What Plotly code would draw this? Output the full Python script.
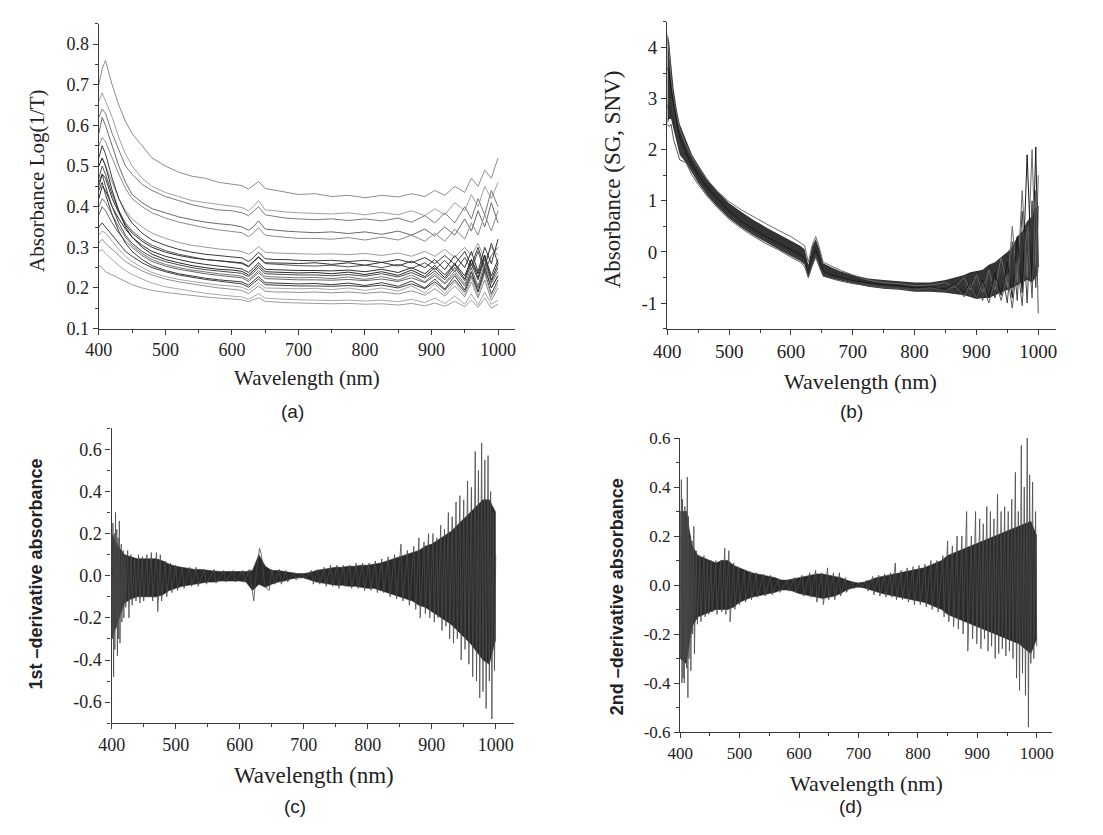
import plotly.graph_objects as go

# ---------------- panel (a): raw absorbance spectra ----------------
WL_A = [400, 405, 410, 420, 430, 440, 450, 465, 480, 500, 520, 540, 560, 580, 600, 615, 625, 632, 640, 650,
        665, 680, 700, 725, 750, 775, 800, 825, 850, 870, 890, 905, 920, 935, 950, 960, 970, 980, 990, 1000]

A01 = [0.70, 0.74, 0.76, 0.70, 0.65, 0.61, 0.58, 0.55, 0.52, 0.50, 0.485, 0.475, 0.47, 0.46, 0.455, 0.452, 0.443, 0.452, 0.462, 0.445,
       0.44, 0.435, 0.43, 0.432, 0.425, 0.428, 0.422, 0.428, 0.424, 0.432, 0.425, 0.44, 0.428, 0.45, 0.435, 0.47, 0.45, 0.49, 0.47, 0.52]
A02 = [0.66, 0.68, 0.66, 0.62, 0.57, 0.53, 0.50, 0.47, 0.45, 0.435, 0.425, 0.415, 0.41, 0.405, 0.40, 0.398, 0.39, 0.40, 0.415, 0.392,
       0.39, 0.387, 0.385, 0.383, 0.382, 0.385, 0.38, 0.386, 0.38, 0.39, 0.378, 0.395, 0.38, 0.41, 0.39, 0.43, 0.40, 0.45, 0.42, 0.46]
A03 = [0.62, 0.64, 0.63, 0.58, 0.54, 0.50, 0.48, 0.455, 0.44, 0.425, 0.415, 0.405, 0.398, 0.392, 0.39, 0.385, 0.378, 0.388, 0.40, 0.38,
       0.376, 0.372, 0.37, 0.368, 0.37, 0.366, 0.37, 0.365, 0.372, 0.362, 0.378, 0.36, 0.385, 0.36, 0.40, 0.37, 0.42, 0.38, 0.44, 0.40]
A04 = [0.58, 0.62, 0.60, 0.55, 0.50, 0.46, 0.43, 0.41, 0.395, 0.385, 0.375, 0.368, 0.362, 0.358, 0.355, 0.35, 0.342, 0.35, 0.365, 0.345,
       0.342, 0.34, 0.338, 0.336, 0.338, 0.334, 0.338, 0.332, 0.34, 0.33, 0.345, 0.328, 0.35, 0.33, 0.37, 0.34, 0.39, 0.35, 0.41, 0.36]
A05 = [0.55, 0.57, 0.56, 0.52, 0.48, 0.445, 0.42, 0.40, 0.385, 0.372, 0.362, 0.355, 0.348, 0.343, 0.34, 0.336, 0.326, 0.335, 0.348, 0.33,
       0.327, 0.325, 0.322, 0.322, 0.32, 0.324, 0.318, 0.325, 0.318, 0.33, 0.315, 0.335, 0.315, 0.345, 0.32, 0.36, 0.33, 0.38, 0.34, 0.39]
A06 = [0.50, 0.52, 0.50, 0.46, 0.42, 0.39, 0.37, 0.35, 0.335, 0.322, 0.312, 0.305, 0.30, 0.296, 0.293, 0.29, 0.283, 0.29, 0.302, 0.288,
       0.286, 0.285, 0.284, 0.283, 0.284, 0.282, 0.285, 0.28, 0.286, 0.278, 0.29, 0.278, 0.295, 0.275, 0.30, 0.28, 0.31, 0.27, 0.30, 0.28]
A07 = [0.52, 0.55, 0.53, 0.47, 0.42, 0.385, 0.36, 0.335, 0.318, 0.305, 0.295, 0.288, 0.283, 0.28, 0.277, 0.274, 0.265, 0.274, 0.288, 0.272,
       0.27, 0.27, 0.268, 0.267, 0.268, 0.265, 0.268, 0.263, 0.27, 0.262, 0.275, 0.26, 0.28, 0.258, 0.29, 0.255, 0.30, 0.25, 0.31, 0.26]
A08 = [0.47, 0.50, 0.48, 0.43, 0.39, 0.36, 0.34, 0.32, 0.305, 0.292, 0.283, 0.276, 0.27, 0.267, 0.264, 0.26, 0.252, 0.262, 0.275, 0.26,
       0.258, 0.256, 0.255, 0.254, 0.256, 0.252, 0.256, 0.25, 0.258, 0.248, 0.262, 0.245, 0.268, 0.24, 0.275, 0.245, 0.29, 0.24, 0.28, 0.30]
A09 = [0.42, 0.45, 0.44, 0.40, 0.37, 0.345, 0.325, 0.305, 0.29, 0.278, 0.27, 0.263, 0.258, 0.254, 0.25, 0.247, 0.238, 0.248, 0.262, 0.246,
       0.245, 0.244, 0.243, 0.243, 0.242, 0.244, 0.24, 0.246, 0.238, 0.25, 0.235, 0.255, 0.232, 0.26, 0.23, 0.27, 0.235, 0.28, 0.23, 0.27]
A10 = [0.46, 0.48, 0.45, 0.40, 0.36, 0.33, 0.31, 0.29, 0.276, 0.265, 0.257, 0.25, 0.245, 0.242, 0.24, 0.236, 0.228, 0.237, 0.25, 0.235,
       0.234, 0.233, 0.232, 0.232, 0.23, 0.233, 0.229, 0.235, 0.227, 0.238, 0.224, 0.242, 0.22, 0.25, 0.218, 0.26, 0.22, 0.27, 0.215, 0.25]
A11 = [0.38, 0.40, 0.39, 0.36, 0.335, 0.315, 0.30, 0.28, 0.265, 0.254, 0.246, 0.24, 0.235, 0.231, 0.228, 0.225, 0.216, 0.226, 0.238, 0.223,
       0.222, 0.221, 0.22, 0.22, 0.219, 0.221, 0.218, 0.222, 0.216, 0.225, 0.213, 0.23, 0.21, 0.235, 0.205, 0.24, 0.20, 0.25, 0.20, 0.23]
A12 = [0.35, 0.36, 0.35, 0.33, 0.31, 0.29, 0.278, 0.262, 0.25, 0.24, 0.232, 0.226, 0.221, 0.217, 0.214, 0.21, 0.202, 0.211, 0.222, 0.208,
       0.207, 0.206, 0.205, 0.205, 0.204, 0.206, 0.203, 0.207, 0.20, 0.21, 0.198, 0.215, 0.195, 0.22, 0.19, 0.23, 0.19, 0.24, 0.185, 0.22]
A13 = [0.31, 0.32, 0.31, 0.295, 0.28, 0.265, 0.255, 0.242, 0.232, 0.222, 0.215, 0.21, 0.205, 0.20, 0.197, 0.194, 0.186, 0.195, 0.205, 0.192,
       0.19, 0.19, 0.189, 0.19, 0.188, 0.19, 0.187, 0.19, 0.185, 0.193, 0.182, 0.198, 0.18, 0.205, 0.178, 0.215, 0.175, 0.22, 0.17, 0.20]
A14 = [0.29, 0.295, 0.285, 0.27, 0.255, 0.243, 0.233, 0.222, 0.212, 0.203, 0.197, 0.192, 0.187, 0.183, 0.18, 0.178, 0.172, 0.178, 0.186, 0.175,
       0.173, 0.172, 0.171, 0.17, 0.169, 0.17, 0.168, 0.17, 0.166, 0.172, 0.164, 0.175, 0.162, 0.18, 0.16, 0.185, 0.158, 0.19, 0.16, 0.17]
A15 = [0.255, 0.25, 0.24, 0.232, 0.222, 0.215, 0.208, 0.20, 0.194, 0.189, 0.185, 0.181, 0.178, 0.175, 0.173, 0.171, 0.166, 0.17, 0.176, 0.167,
       0.165, 0.164, 0.163, 0.162, 0.161, 0.162, 0.16, 0.161, 0.158, 0.162, 0.156, 0.163, 0.155, 0.167, 0.154, 0.17, 0.152, 0.175, 0.15, 0.16]
A16 = [0.45, 0.48, 0.47, 0.42, 0.385, 0.355, 0.335, 0.315, 0.3, 0.288, 0.28, 0.274, 0.27, 0.267, 0.265, 0.262, 0.254, 0.264, 0.277, 0.262,
       0.262, 0.261, 0.26, 0.262, 0.258, 0.262, 0.256, 0.263, 0.254, 0.266, 0.25, 0.27, 0.245, 0.28, 0.25, 0.29, 0.24, 0.3, 0.26, 0.32]
A17 = [0.5, 0.52, 0.5, 0.44, 0.39, 0.35, 0.325, 0.3, 0.283, 0.27, 0.262, 0.255, 0.25, 0.246, 0.244, 0.241, 0.232, 0.242, 0.256, 0.24,
       0.239, 0.238, 0.237, 0.238, 0.235, 0.239, 0.233, 0.24, 0.231, 0.244, 0.228, 0.25, 0.225, 0.258, 0.222, 0.27, 0.225, 0.28, 0.22, 0.26]
A18 = [0.4, 0.42, 0.41, 0.38, 0.35, 0.325, 0.305, 0.285, 0.27, 0.258, 0.25, 0.244, 0.239, 0.235, 0.232, 0.229, 0.221, 0.23, 0.243, 0.228,
       0.227, 0.226, 0.225, 0.226, 0.223, 0.227, 0.221, 0.228, 0.219, 0.232, 0.215, 0.236, 0.212, 0.242, 0.21, 0.25, 0.205, 0.26, 0.21, 0.24]
A19 = [0.44, 0.46, 0.43, 0.38, 0.34, 0.31, 0.29, 0.27, 0.255, 0.243, 0.235, 0.229, 0.224, 0.22, 0.218, 0.215, 0.207, 0.216, 0.228, 0.213,
       0.212, 0.211, 0.21, 0.211, 0.208, 0.212, 0.206, 0.213, 0.204, 0.217, 0.2, 0.222, 0.197, 0.23, 0.195, 0.24, 0.19, 0.25, 0.2, 0.23]
A20 = [0.33, 0.34, 0.335, 0.315, 0.295, 0.278, 0.265, 0.25, 0.238, 0.228, 0.221, 0.216, 0.211, 0.207, 0.205, 0.202, 0.194, 0.203, 0.213, 0.2,
       0.199, 0.198, 0.198, 0.199, 0.196, 0.2, 0.194, 0.2, 0.192, 0.205, 0.188, 0.21, 0.185, 0.215, 0.183, 0.225, 0.18, 0.235, 0.178, 0.21]
SPECTRA_A = [A01, A02, A03, A04, A05, A06, A07, A08, A09, A10, A11, A12, A13, A14, A15, A16, A17, A18, A19, A20]
GREYS_A = ["#8c8c8c", "#a0a0a0", "#7a7a7a", "#6a6a6a", "#8a8a8a", "#9a9a9a", "#3c3c3c", "#555555",
           "#2f2f2f", "#4a4a4a", "#666666", "#404040", "#8f8f8f", "#a8a8a8", "#9c9c9c",
           "#333333", "#2a2a2a", "#777777", "#3a3a3a", "#a5a5a5"]

# ---------------- panel (b): SG + SNV ----------------
WL_B = [400, 403, 406, 410, 415, 420, 430, 440, 450, 465, 480, 500, 520, 540, 560, 580, 600, 615, 622, 628,
        634, 640, 646, 652, 665, 680, 700, 725, 750, 775, 800, 825, 850, 865, 880, 890, 900, 910, 920, 930,
        940, 950, 958, 966, 974, 982, 990, 996, 1000]
B_HI = [4.3, 4.1, 3.7, 3.2, 2.8, 2.5, 2.2, 1.9, 1.7, 1.42, 1.2, 0.95, 0.78, 0.62, 0.48, 0.35, 0.22, 0.12, 0.05, -0.25,
        0.1, 0.25, 0.05, -0.22, -0.3, -0.38, -0.45, -0.52, -0.55, -0.58, -0.6, -0.6, -0.55, -0.5, -0.45, -0.4, -0.38, -0.35, -0.25, -0.2,
        -0.1, 0.0, 0.1, 0.3, 0.4, 0.6, 0.7, 0.9, 0.7]
B_LO = [2.5, 2.6, 2.6, 2.4, 2.1, 1.9, 1.75, 1.55, 1.35, 1.1, 0.9, 0.66, 0.48, 0.32, 0.18, 0.05, -0.08, -0.18, -0.25, -0.52,
        -0.3, -0.12, -0.3, -0.48, -0.52, -0.56, -0.62, -0.68, -0.72, -0.74, -0.78, -0.78, -0.8, -0.82, -0.85, -0.88, -0.92, -0.9, -0.9, -0.85,
        -0.8, -0.75, -0.7, -0.65, -0.6, -0.55, -0.6, -0.5, -0.4]
B1 = [4.2, 3.9, 3.4, 3.0, 2.7, 2.4, 2.1, 1.85, 1.65, 1.4, 1.2, 0.98, 0.82, 0.68, 0.55, 0.42, 0.3, 0.18, 0.12, -0.2,
      0.12, 0.3, 0.08, -0.2, -0.28, -0.36, -0.45, -0.55, -0.6, -0.62, -0.66, -0.65, -0.6, -0.7, -0.5, -0.75, -0.45, -0.8, -0.35, -0.75,
      -0.1, -0.7, 0.5, -0.6, 1.2, -0.5, 2.0, -0.3, 1.5]
B2 = [3.6, 3.5, 3.2, 2.9, 2.55, 2.25, 1.95, 1.7, 1.5, 1.25, 1.05, 0.8, 0.6, 0.44, 0.3, 0.17, 0.05, -0.05, -0.12, -0.42,
      -0.12, 0.05, -0.15, -0.38, -0.45, -0.5, -0.56, -0.6, -0.64, -0.66, -0.7, -0.68, -0.72, -0.62, -0.8, -0.6, -0.85, -0.55, -0.9, -0.4,
      -0.85, -0.2, -0.9, 0.3, -0.8, 1.9, -0.6, 2.05, -0.3]
B3 = [2.8, 3.0, 3.0, 2.7, 2.35, 2.05, 1.82, 1.6, 1.4, 1.15, 0.95, 0.72, 0.52, 0.36, 0.22, 0.1, -0.03, -0.13, -0.2, -0.48,
      -0.2, -0.05, -0.22, -0.42, -0.48, -0.54, -0.58, -0.64, -0.68, -0.7, -0.72, -0.74, -0.66, -0.8, -0.6, -0.88, -0.55, -0.95, -0.45, -0.9,
      -0.3, -1.0, 0.2, -0.95, 0.8, -1.0, 1.0, -0.7, 0.9]
B4 = [2.5, 2.45, 2.5, 2.2, 2.0, 1.8, 1.75, 1.5, 1.32, 1.08, 0.88, 0.64, 0.46, 0.3, 0.16, 0.04, -0.1, -0.2, -0.28, -0.5,
      -0.28, -0.1, -0.3, -0.47, -0.52, -0.57, -0.62, -0.66, -0.7, -0.72, -0.75, -0.7, -0.78, -0.65, -0.88, -0.62, -0.9, -0.6, -1.0, -0.55,
      -0.95, -0.45, -1.1, -0.2, -1.05, 0.5, -0.9, 1.2, -1.2]
SPECTRA_B = [B1, B2, B3, B4]
GREYS_B = ["#6a6a6a", "#1a1a1a", "#444444", "#555555"]

# ---------------- panels (c) and (d): derivative envelopes ----------------
WL_CD = [400, 410, 420, 430, 440, 450, 460, 470, 480, 490, 500, 510, 520, 530, 540, 550, 560, 570, 580, 590,
         600, 610, 620, 630, 640, 650, 660, 670, 680, 690, 700, 710, 720, 730, 740, 750, 760, 770, 780, 790,
         800, 810, 820, 830, 840, 850, 860, 870, 880, 890, 900, 910, 920, 930, 940, 950, 960, 970, 980, 990, 1000]
C_HI = [0.2, 0.14, 0.1, 0.09, 0.08, 0.08, 0.08, 0.08, 0.07, 0.055, 0.045, 0.04, 0.035, 0.03, 0.03, 0.025, 0.022, 0.02, 0.02, 0.02,
        0.02, 0.02, 0.025, 0.1, 0.045, 0.025, 0.025, 0.02, 0.015, 0.01, 0.01, 0.015, 0.025, 0.03, 0.035, 0.04, 0.04, 0.045, 0.045, 0.05,
        0.05, 0.055, 0.06, 0.07, 0.08, 0.09, 0.1, 0.11, 0.12, 0.14, 0.15, 0.17, 0.19, 0.21, 0.24, 0.27, 0.3, 0.33, 0.36, 0.36, 0.3]
C_LO = [-0.3, -0.22, -0.13, -0.11, -0.1, -0.1, -0.1, -0.1, -0.09, -0.07, -0.06, -0.05, -0.045, -0.04, -0.035, -0.03, -0.03, -0.025, -0.025, -0.025,
        -0.025, -0.03, -0.07, -0.04, -0.055, -0.04, -0.03, -0.025, -0.015, -0.01, -0.01, -0.02, -0.03, -0.035, -0.04, -0.045, -0.045, -0.05, -0.05, -0.055,
        -0.06, -0.06, -0.07, -0.08, -0.09, -0.1, -0.11, -0.12, -0.14, -0.15, -0.17, -0.19, -0.21, -0.23, -0.26, -0.29, -0.32, -0.36, -0.4, -0.42, -0.3]
SPK_C_X = [400, 401, 402, 403, 404, 405, 406, 407, 408, 409, 410, 411, 412, 413, 415, 416, 418, 419, 421, 422,
           425, 427, 430, 432, 436, 438, 442, 444, 448, 450, 455, 457, 462, 464, 470, 472, 476, 478, 484, 486,
           492, 494, 500, 503, 510, 513, 522, 525, 532, 535, 545, 548, 560, 563, 575, 578, 590, 593, 605, 608,
           615, 618, 622, 626, 631, 634, 638, 642, 646, 650, 655, 662, 665, 672, 675, 685, 688, 698, 702, 712,
           715, 722, 725, 732, 735, 742, 745, 752, 755, 762, 765, 772, 775, 782, 785, 792, 795, 802, 805, 812,
           815, 822, 825, 832, 835, 842, 845, 852, 855, 862, 865, 872, 875, 880, 882, 888, 890, 895, 897, 902,
           904, 908, 910, 914, 916, 920, 922, 926, 928, 932, 934, 938, 940, 944, 946, 950, 952, 956, 958, 962,
           964, 968, 970, 973, 975, 978, 980, 983, 985, 988, 990, 992, 994, 996, 998, 1000]
SPK_C_Y = [0.1, -0.3, 0.25, -0.48, 0.2, -0.35, 0.3, -0.25, 0.22, -0.38, 0.18, -0.3, 0.26, -0.32, 0.15, -0.22, 0.12, -0.2, 0.1, -0.15,
           0.12, -0.2, 0.1, -0.14, 0.08, -0.12, 0.1, -0.13, 0.09, -0.12, 0.1, -0.1, 0.11, -0.12, 0.11, -0.17, 0.1, -0.12, 0.07, -0.1,
           0.06, -0.08, 0.05, -0.07, 0.04, -0.06, 0.04, -0.05, 0.04, -0.05, 0.03, -0.04, 0.03, -0.035, 0.025, -0.03, 0.025, -0.03, 0.025, -0.03,
           0.03, -0.04, -0.12, 0.02, 0.13, 0.1, -0.02, -0.06, -0.07, 0.03, -0.04, 0.03, -0.04, 0.025, -0.03, 0.015, -0.02, 0.01, -0.015, 0.025,
           -0.04, 0.03, -0.04, 0.04, -0.05, 0.05, -0.05, 0.05, -0.06, 0.05, -0.05, 0.05, -0.06, 0.06, -0.06, 0.06, -0.07, 0.06, -0.07, 0.07,
           -0.08, 0.08, -0.08, 0.09, -0.1, 0.1, -0.11, 0.15, -0.12, 0.12, -0.14, 0.14, -0.16, 0.18, -0.2, 0.16, -0.18, 0.2, -0.2, 0.2,
           -0.22, 0.18, -0.2, 0.24, -0.26, 0.22, -0.24, 0.3, -0.3, 0.28, -0.32, 0.35, -0.3, 0.38, -0.4, 0.36, -0.35, 0.45, -0.42, 0.42,
           -0.48, 0.59, -0.5, 0.5, -0.58, 0.63, -0.55, 0.55, -0.63, 0.57, -0.5, 0.4, -0.68, 0.3, -0.45, 0.1]

D_HI = [0.3, 0.3, 0.16, 0.12, 0.11, 0.1, 0.09, 0.1, 0.1, 0.08, 0.07, 0.06, 0.05, 0.045, 0.04, 0.035, 0.03, 0.02, 0.02, 0.025,
        0.03, 0.035, 0.04, 0.045, 0.045, 0.04, 0.035, 0.03, 0.02, 0.012, 0.008, 0.012, 0.02, 0.03, 0.035, 0.04, 0.045, 0.05, 0.055, 0.06,
        0.065, 0.07, 0.08, 0.09, 0.1, 0.12, 0.13, 0.14, 0.15, 0.16, 0.17, 0.18, 0.19, 0.2, 0.21, 0.22, 0.23, 0.24, 0.25, 0.26, 0.2]
D_LO = [-0.3, -0.32, -0.17, -0.13, -0.12, -0.11, -0.1, -0.1, -0.1, -0.09, -0.07, -0.06, -0.05, -0.045, -0.04, -0.035, -0.03, -0.02, -0.02, -0.025,
        -0.035, -0.04, -0.045, -0.05, -0.055, -0.05, -0.045, -0.035, -0.02, -0.012, -0.008, -0.012, -0.02, -0.03, -0.035, -0.04, -0.045, -0.05, -0.055, -0.06,
        -0.065, -0.07, -0.08, -0.09, -0.1, -0.12, -0.13, -0.14, -0.15, -0.16, -0.17, -0.18, -0.19, -0.2, -0.21, -0.22, -0.23, -0.24, -0.26, -0.28, -0.22]
SPK_D_X = [400, 401, 402, 403, 404, 405, 406, 407, 408, 409, 410, 411, 412, 413, 414, 415, 417, 418, 420, 421,
           423, 424, 427, 429, 433, 435, 440, 442, 446, 448, 452, 454, 460, 462, 468, 470, 475, 477, 482, 484,
           490, 492, 498, 500, 508, 510, 518, 520, 528, 530, 540, 543, 552, 555, 565, 568, 580, 583, 592, 595,
           605, 608, 618, 620, 628, 630, 638, 641, 648, 650, 658, 660, 668, 670, 678, 680, 690, 692, 702, 705,
           714, 716, 724, 726, 734, 736, 744, 746, 754, 756, 762, 764, 772, 774, 782, 784, 792, 794, 802, 804,
           812, 814, 822, 824, 832, 834, 842, 844, 850, 852, 858, 860, 866, 868, 874, 876, 882, 884, 890, 892,
           897, 899, 904, 906, 910, 912, 916, 918, 922, 924, 928, 930, 934, 936, 940, 942, 946, 948, 952, 954,
           958, 960, 964, 966, 969, 971, 974, 976, 979, 981, 984, 986, 988, 990, 993, 995, 998, 1000]
SPK_D_Y = [0.2, -0.3, 0.43, -0.4, 0.35, -0.38, 0.3, -0.4, 0.32, -0.3, 0.3, -0.34, 0.44, -0.46, 0.28, -0.3, 0.2, -0.35, 0.18, -0.2,
           0.24, -0.28, 0.14, -0.16, 0.12, -0.15, 0.12, -0.13, 0.1, -0.12, 0.1, -0.11, 0.1, -0.12, 0.1, -0.11, 0.15, -0.12, 0.14, -0.15,
           0.09, -0.1, 0.07, -0.08, 0.06, -0.07, 0.055, -0.06, 0.05, -0.05, 0.045, -0.045, 0.04, -0.04, 0.025, -0.03, 0.02, -0.025, 0.03, -0.03,
           0.04, -0.045, 0.05, -0.05, 0.06, -0.07, 0.05, -0.08, 0.07, -0.06, 0.05, -0.06, 0.05, -0.045, 0.03, -0.03, 0.015, -0.015, 0.01, -0.01,
           0.02, -0.025, 0.035, -0.04, 0.04, -0.045, 0.045, -0.05, 0.05, -0.05, 0.09, -0.06, 0.06, -0.06, 0.07, -0.07, 0.075, -0.08, 0.08, -0.08,
           0.085, -0.09, 0.1, -0.1, 0.1, -0.11, 0.12, -0.13, 0.18, -0.15, 0.16, -0.17, 0.2, -0.18, 0.2, -0.2, 0.3, -0.27, 0.2, -0.22,
           0.3, -0.24, 0.27, -0.26, 0.25, -0.22, 0.32, -0.27, 0.3, -0.25, 0.27, -0.3, 0.37, -0.28, 0.3, -0.26, 0.32, -0.29, 0.3, -0.27,
           0.35, -0.3, 0.46, -0.38, 0.3, -0.43, 0.57, -0.36, 0.4, -0.45, 0.6, -0.58, 0.45, -0.32, 0.42, -0.3, 0.3, -0.25]

# tick labels
X_TICKS = [400, 500, 600, 700, 800, 900, 1000]
X_TEXT = ["400", "500", "600", "700", "800", "900", "1000"]
A_TICKS = [0.1, 0.2, 0.3, 0.4, 0.5, 0.6, 0.7, 0.8]
A_TEXT = ["0.1", "0.2", "0.3", "0.4", "0.5", "0.6", "0.7", "0.8"]
B_TICKS = [-1, 0, 1, 2, 3, 4]
B_TEXT = ["-1", "0", "1", "2", "3", "4"]
CD_TICKS = [-0.6, -0.4, -0.2, 0.0, 0.2, 0.4, 0.6]
CD_TEXT = ["-0.6", "-0.4", "-0.2", "0.0", "0.2", "0.4", "0.6"]

SERIF = "Liberation Serif"
SANS = "Liberation Sans"
AXC = "#3a3a3a"
# the page body adds an 8px margin, so the figure is kept a little smaller than the window
W, H, OFF = 1087, 819, 8

fig = go.Figure()

for ys, c in zip(SPECTRA_A, GREYS_A):
    fig.add_trace(go.Scatter(x=WL_A, y=ys, mode="lines", xaxis="x", yaxis="y",
                             line=dict(color=c, width=1), showlegend=False))

fig.add_trace(go.Scatter(x=WL_B, y=B_LO, mode="lines", xaxis="x2", yaxis="y2",
                         line=dict(width=0, color="#333"), showlegend=False))
fig.add_trace(go.Scatter(x=WL_B, y=B_HI, mode="lines", xaxis="x2", yaxis="y2", fill="tonexty",
                         fillcolor="#333333", line=dict(width=0, color="#333"), showlegend=False))
for ys, c in zip(SPECTRA_B, GREYS_B):
    fig.add_trace(go.Scatter(x=WL_B, y=ys, mode="lines", xaxis="x2", yaxis="y2",
                             line=dict(color=c, width=1), showlegend=False))

for (lo, hi, sx, sy, xa, ya) in [(C_LO, C_HI, SPK_C_X, SPK_C_Y, "x3", "y3"),
                                 (D_LO, D_HI, SPK_D_X, SPK_D_Y, "x4", "y4")]:
    fig.add_trace(go.Scatter(x=WL_CD, y=lo, mode="lines", xaxis=xa, yaxis=ya,
                             line=dict(width=0.6, color="#2a2a2a"), showlegend=False))
    fig.add_trace(go.Scatter(x=WL_CD, y=hi, mode="lines", xaxis=xa, yaxis=ya, fill="tonexty",
                             fillcolor="#2a2a2a", line=dict(width=0.6, color="#2a2a2a"), showlegend=False))
    fig.add_trace(go.Scatter(x=sx, y=sy, mode="lines", xaxis=xa, yaxis=ya,
                             line=dict(color="#4a4a4a", width=0.8), showlegend=False))


def px_x(a, b):
    return [(a - OFF) / W, (b - OFF) / W]


def px_y(top, bottom):
    return [1 - (bottom - OFF) / H, 1 - (top - OFF) / H]


def xaxis(dom, rng, anchor, size):
    return dict(domain=dom, range=rng, anchor=anchor, showline=True, linecolor=AXC, linewidth=1.4,
                ticks="outside", ticklen=5, tickwidth=1.2, tickcolor=AXC,
                tickvals=X_TICKS, ticktext=X_TEXT, showgrid=False, zeroline=False,
                minor=dict(ticks="outside", ticklen=3, tickwidth=1, tickcolor=AXC, dtick=50, tick0=400, showgrid=False),
                tickfont=dict(family=SERIF, size=size, color="#222"))


def yaxis(dom, rng, anchor, vals, text, mdt, size):
    return dict(domain=dom, range=rng, anchor=anchor, showline=True, linecolor=AXC, linewidth=1.4,
                ticks="outside", ticklen=5, tickwidth=1.2, tickcolor=AXC,
                tickvals=vals, ticktext=text, showgrid=False, zeroline=False,
                minor=dict(ticks="outside", ticklen=3, tickwidth=1, tickcolor=AXC, dtick=mdt, tick0=0, showgrid=False),
                tickfont=dict(family=SERIF, size=size, color="#222"))


fig.update_layout(
    width=W, height=H,
    margin=dict(l=0, r=0, t=0, b=0),
    plot_bgcolor="white", paper_bgcolor="white",
    showlegend=False,
    xaxis=xaxis(px_x(86, 508), [400, 1025], "y", 18),
    yaxis=yaxis(px_y(15, 327), [0.1, 0.85], "x", A_TICKS, A_TEXT, 0.05, 18),
    xaxis2=xaxis(px_x(663, 1057), [400, 1028], "y2", 19),
    yaxis2=yaxis(px_y(13, 327), [-1.5, 4.5], "x2", B_TICKS, B_TEXT, 0.5, 19),
    xaxis3=xaxis(px_x(99, 507), [400, 1028], "y3", 18),
    yaxis3=yaxis(px_y(429, 731), [-0.7, 0.7], "x3", CD_TICKS, CD_TEXT, 0.1, 18),
    xaxis4=xaxis(px_x(676, 1053), [400, 1025], "y4", 17),
    yaxis4=yaxis(px_y(439, 740), [-0.6, 0.6], "x4", CD_TICKS, CD_TEXT, 0.1, 17),
)

# titles and panel letters as annotations (positions in window pixels)
labels = [
    ("Wavelength (nm)", 297, 378, 0, SERIF, 21),
    ("Absorbance Log(1/T)", 23, 175, -90, SERIF, 21),
    ("(a)", 283, 412, 0, SANS, 19),
    ("Wavelength (nm)", 859, 381, 0, SERIF, 22),
    ("Absorbance (SG, SNV)", 607, 174, -90, SERIF, 23),
    ("(b)", 850, 412, 0, SANS, 19),
    ("Wavelength (nm)", 304, 785, 0, SERIF, 23),
    ("<b>1st \u2013derivative absorbance</b>", 22, 578, -90, SANS, 18),
    ("(c)", 285, 816, 0, SANS, 19),
    ("Wavelength (nm)", 865, 793, 0, SERIF, 22),
    ("<b>2nd \u2013derivative absorbance</b>", 612, 602, -90, SANS, 18),
    ("(d)", 849, 816, 0, SANS, 19),
]
for text, x, y, ang, fam, size in labels:
    fig.add_annotation(text=text, x=(x - OFF) / W, y=1 - (y - OFF) / H, xref="paper", yref="paper",
                       showarrow=False, textangle=ang, xanchor="center", yanchor="middle",
                       font=dict(family=fam, size=size, color="#222"))

fig.write_html("out.html")
